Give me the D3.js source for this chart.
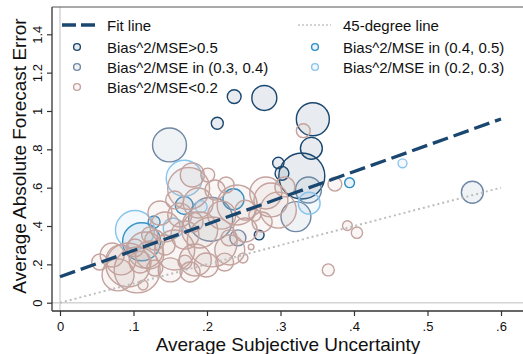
<!DOCTYPE html>
<html>
<head>
<meta charset="utf-8">
<script src="https://cdn.jsdelivr.net/npm/d3@7"></script>
<style>
  html, body { margin: 0; padding: 0; background: #fff; }
  svg { display: block; font-family: "Liberation Sans", Arial, Helvetica, sans-serif; }
</style>
</head>
<body>
<svg id="chart" width="523" height="354"></svg>
<script>
// Forecasters: average subjective uncertainty (x), average absolute forecast error (y),
// number of forecasts (weight, drives bubble area), grouped by the Bias^2/MSE share.
const groupKeys = ["g5", "g4", "g3", "g2", "g1"];
const groupLabels = {
  g5: "Bias^2/MSE>0.5",
  g4: "Bias^2/MSE in (0.4, 0.5)",
  g3: "Bias^2/MSE in (0.3, 0.4)",
  g2: "Bias^2/MSE in (0.2, 0.3)",
  g1: "Bias^2/MSE<0.2"
};

// Bias^2/MSE > 0.5
const g5x = [0.237, 0.278, 0.344, 0.214, 0.342, 0.297, 0.302, 0.329, 0.271];
const g5y = [1.075, 1.068, 0.957, 0.936, 0.805, 0.729, 0.675, 0.661, 0.353];
const g5w = [12, 39, 68, 9, 30, 8, 12, 132, 6];

// Bias^2/MSE in (0.4, 0.5)
const g4x = [0.111, 0.236, 0.169, 0.128, 0.394];
const g4y = [0.318, 0.539, 0.507, 0.421, 0.626];
const g4w = [90, 28, 20, 9, 6];

// Bias^2/MSE in (0.3, 0.4)
const g3x = [0.149, 0.321, 0.338, 0.561, 0.205, 0.242];
const g3y = [0.823, 0.449, 0.588, 0.576, 0.435, 0.338];
const g3w = [72, 56, 42, 30, 121, 16];

// Bias^2/MSE in (0.2, 0.3)
const g2x = [0.102, 0.169, 0.339, 0.466, 0.192, 0.154];
const g2y = [0.379, 0.649, 0.519, 0.727, 0.501, 0.390];
const g2w = [95, 81, 30, 5, 9, 25];

// Bias^2/MSE < 0.2
const g1x = [0.331, 0.374, 0.391, 0.404, 0.365,
  0.0925, 0.105, 0.083, 0.113, 0.071, 0.122, 0.129, 0.143, 0.136, 0.116,
  0.079, 0.156, 0.175, 0.188, 0.201, 0.207, 0.170, 0.184, 0.150, 0.163,
  0.190, 0.220, 0.143, 0.177, 0.199, 0.224, 0.156, 0.211, 0.170, 0.129,
  0.241, 0.252, 0.249, 0.260, 0.252, 0.287, 0.280, 0.297, 0.275, 0.230,
  0.265, 0.306, 0.231, 0.102, 0.181, 0.054, 0.122, 0.226, 0.180, 0.109];
const g1y = [0.897, 0.618, 0.402, 0.365, 0.171,
  0.197, 0.171, 0.223, 0.092, 0.249, 0.249, 0.327, 0.395, 0.468, 0.275,
  0.145, 0.275, 0.596, 0.520, 0.666, 0.317, 0.353, 0.223, 0.171, 0.457,
  0.379, 0.457, 0.301, 0.160, 0.197, 0.212, 0.536, 0.588, 0.212, 0.181,
  0.510, 0.379, 0.233, 0.291, 0.483, 0.536, 0.572, 0.483, 0.421, 0.338,
  0.457, 0.604, 0.275, 0.286, 0.421, 0.212, 0.353, 0.614, 0.666, 0.212];
const g1w = [12, 12, 6, 8, 9,
  121, 132, 56, 6, 36, 49, 25, 56, 36, 81,
  64, 100, 110, 56, 12, 156, 49, 64, 36, 36,
  81, 49, 25, 25, 36, 20, 20, 25, 12, 16,
  100, 36, 6, 2, 25, 72, 64, 81, 25, 16,
  9, 25, 56, 20, 25, 16, 16, 16, 36, 30];

// Fitted line: intercept and slope
const fitIntercept = 0.135;
const fitSlope = 1.372;

const xTicks = [0, 0.1, 0.2, 0.3, 0.4, 0.5, 0.6];
const yTicks = [0, 0.2, 0.4, 0.6, 0.8, 1, 1.2, 1.4];
const tickLabel = v => v === 0 ? "0" : (v >= 1 ? String(v) : String(v).replace(/^0/, ""));

const colors = {
  g5: "#1a476f",
  g4: "#2a8cc4",
  g3: "#6f88a4",
  g2: "#88c4ec",
  g1: "#c4a29e"
};

const series = {
  g5: g5x.map((v, i) => ({ x: v, y: g5y[i], w: g5w[i] })),
  g4: g4x.map((v, i) => ({ x: v, y: g4y[i], w: g4w[i] })),
  g3: g3x.map((v, i) => ({ x: v, y: g3y[i], w: g3w[i] })),
  g2: g2x.map((v, i) => ({ x: v, y: g2y[i], w: g2w[i] })),
  g1: g1x.map((v, i) => ({ x: v, y: g1y[i], w: g1w[i] }))
};

const svg = d3.select("#chart");
const W = 523;
const frameLeft = 52, frameTop = 7, frameBottom = 311;

const x = d3.scaleLinear().domain([0, 0.6]).range([60, 501]);
const y = d3.scaleLinear().domain([0, 1.4]).range([302.7, 34.3]);
const r = d3.scaleSqrt().domain([0, 100]).range([0, 20]);

// reference lines at zero
svg.append("line").attr("x1", x(0)).attr("x2", x(0)).attr("y1", frameTop).attr("y2", frameBottom)
  .attr("stroke", "#d4d4d4").attr("stroke-width", 1.5);
svg.append("line").attr("x1", frameLeft).attr("x2", W).attr("y1", y(0)).attr("y2", y(0))
  .attr("stroke", "#d4d4d4").attr("stroke-width", 1.5);

// bubbles, one layer per group in legend order
const plot = svg.append("g");
groupKeys.forEach(k => {
  plot.append("g").selectAll("circle").data(series[k]).join("circle")
    .attr("cx", d => x(d.x)).attr("cy", d => y(d.y)).attr("r", d => r(d.w))
    .attr("fill", colors[k]).attr("fill-opacity", 0.1)
    .attr("stroke", colors[k]).attr("stroke-width", 1.4);
});

// 45-degree line
svg.append("line")
  .attr("x1", x(0)).attr("y1", y(0)).attr("x2", x(0.6)).attr("y2", y(0.6))
  .attr("stroke", "#bdbdbd").attr("stroke-width", 2).attr("stroke-dasharray", "2 3");

// fit line
svg.append("line")
  .attr("x1", x(0)).attr("y1", y(fitIntercept))
  .attr("x2", x(0.6)).attr("y2", y(fitIntercept + fitSlope * 0.6))
  .attr("stroke", "#1a476f").attr("stroke-width", 3.3).attr("stroke-dasharray", "16 6");

// axes
const yAxis = d3.axisLeft(y).tickValues(yTicks).tickSize(5).tickFormat(tickLabel);
const gy = svg.append("g").attr("transform", `translate(${frameLeft},0)`).call(yAxis);
gy.attr("font-family", null).attr("font-size", null);
gy.select(".domain").remove();
gy.selectAll(".tick line").attr("stroke", "#333").attr("stroke-width", 1.2);
gy.selectAll(".tick text").attr("x", null).attr("dy", null)
  .attr("text-anchor", "middle").attr("transform", "translate(-10,0) rotate(-90)")
  .attr("font-size", 13).attr("fill", "#111");

const xAxis = d3.axisBottom(x).tickValues(xTicks).tickSize(5).tickFormat(tickLabel);
const gx = svg.append("g").attr("transform", `translate(0,${frameBottom})`).call(xAxis);
gx.attr("font-family", null).attr("font-size", null);
gx.select(".domain").remove();
gx.selectAll(".tick line").attr("stroke", "#333").attr("stroke-width", 1.2);
gx.selectAll(".tick text").attr("y", 20).attr("dy", null).attr("font-size", 13).attr("fill", "#111");

// frame
svg.append("line").attr("x1", frameLeft).attr("x2", frameLeft).attr("y1", frameTop).attr("y2", frameBottom)
  .attr("stroke", "#333").attr("stroke-width", 1.3);
svg.append("line").attr("x1", frameLeft).attr("x2", W).attr("y1", frameBottom).attr("y2", frameBottom)
  .attr("stroke", "#333").attr("stroke-width", 1.3);
svg.append("line").attr("x1", frameLeft).attr("x2", W).attr("y1", frameTop).attr("y2", frameTop)
  .attr("stroke", "#555").attr("stroke-width", 1.2);

// axis titles
svg.append("text").attr("x", 288).attr("y", 351).attr("text-anchor", "middle")
  .attr("font-size", 19).attr("fill", "#111").text("Average Subjective Uncertainty");
svg.append("text").attr("transform", "translate(26,156) rotate(-90)").attr("text-anchor", "middle")
  .attr("font-size", 19).attr("fill", "#111").text("Average Absolute Forecast Error");

// legend
const leg = svg.append("g").attr("font-size", 15).attr("fill", "#111");
leg.append("line").attr("x1", 62).attr("x2", 95).attr("y1", 25).attr("y2", 25)
  .attr("stroke", "#1a476f").attr("stroke-width", 3.3).attr("stroke-dasharray", "14 5");
leg.append("text").attr("x", 107).attr("y", 31).text("Fit line");
leg.append("line").attr("x1", 298).attr("x2", 331).attr("y1", 25).attr("y2", 25)
  .attr("stroke", "#c4c4c4").attr("stroke-width", 1.6).attr("stroke-dasharray", "2 2");
leg.append("text").attr("x", 343).attr("y", 31).text("45-degree line");

const legPos = {
  g5: [77, 107, 47], g4: [315, 343, 47],
  g3: [77, 107, 67], g2: [315, 343, 67],
  g1: [77, 107, 87]
};
groupKeys.forEach(k => {
  const [cx, tx, cy] = legPos[k];
  leg.append("circle").attr("cx", cx).attr("cy", cy).attr("r", 3.4)
    .attr("fill", colors[k]).attr("fill-opacity", 0.1)
    .attr("stroke", colors[k]).attr("stroke-width", 1.4);
  leg.append("text").attr("x", tx).attr("y", cy + 5.5).text(groupLabels[k]);
});
</script>
</body>
</html>
